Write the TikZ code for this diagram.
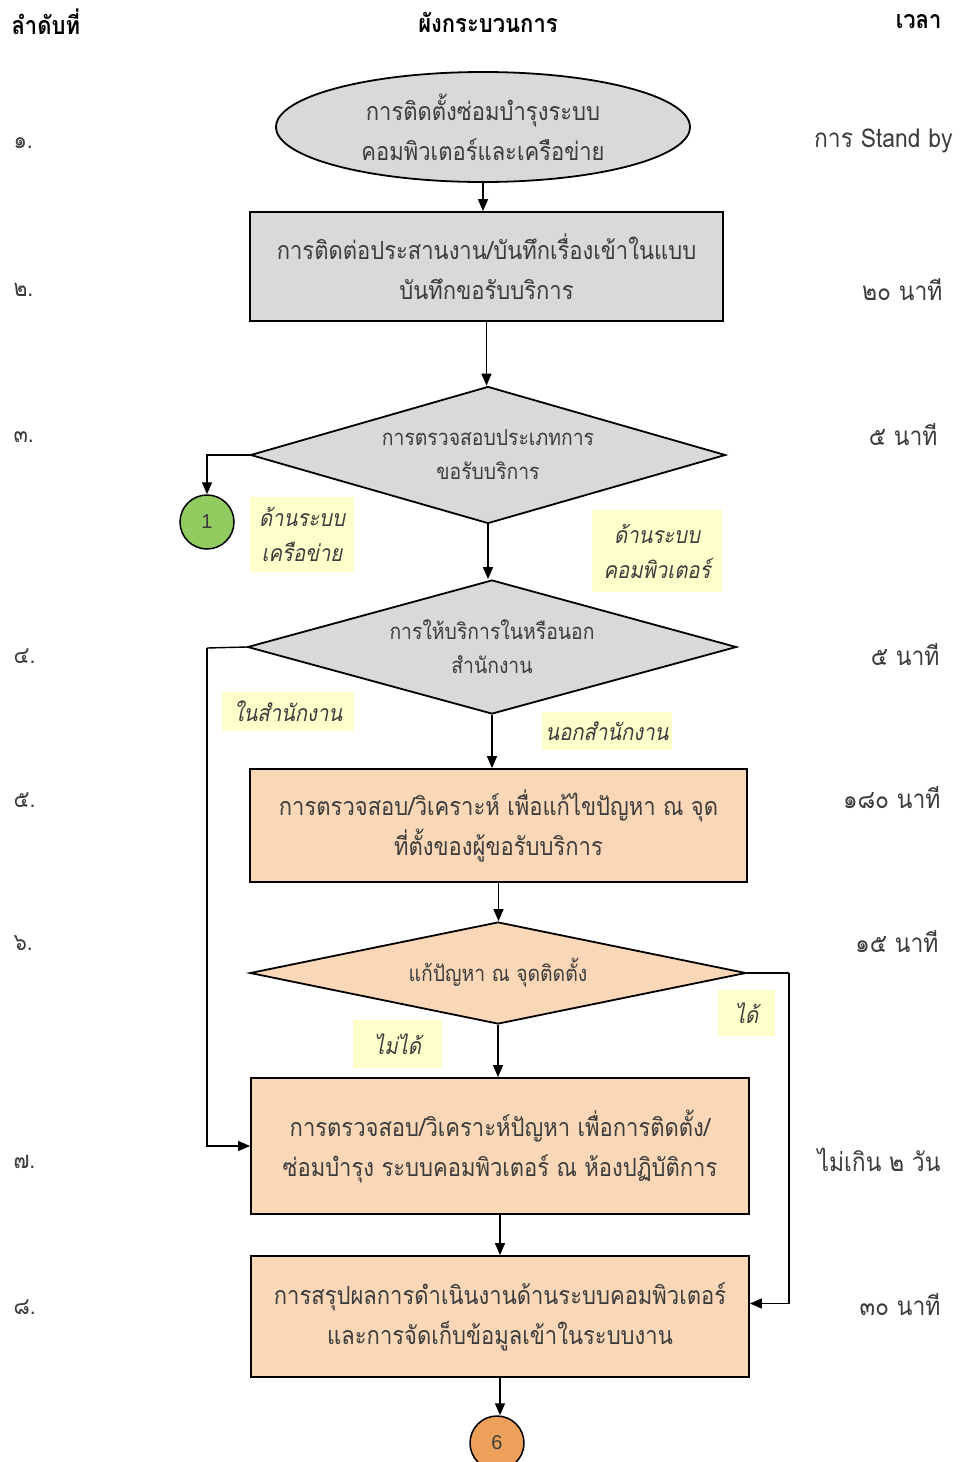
\documentclass[tikz,border=0pt]{standalone}
\usepackage{fontspec}
\usetikzlibrary{shapes.geometric,arrows.meta}
\newfontfamily\thai[Script=Thai,FakeStretch=0.88]{Loma}
\newfontfamily\thaiit[Script=Thai,FakeStretch=0.88,FakeSlant=0.2]{Loma}
\newfontfamily\arialf{Liberation Sans}
\definecolor{boxgray}{RGB}{217,217,217}
\definecolor{peach}{RGB}{249,215,183}
\definecolor{lblyellow}{RGB}{255,255,204}
\definecolor{cgreen}{RGB}{146,204,96}
\definecolor{corange}{RGB}{236,160,90}
\definecolor{txt}{RGB}{60,60,60}
\begin{document}
\begin{tikzpicture}[x=1pt,y=-1pt,
  base/.style={draw=black,line width=1.8pt,text=txt,font=\thai\fontsize{25}{40}\selectfont,align=center,inner sep=0pt},
  term/.style={base,ellipse,fill=boxgray},
  proc/.style={base,rectangle,fill=boxgray},
  procp/.style={base,rectangle,fill=peach},
  dec/.style={base,diamond,aspect=3.5,fill=boxgray,font=\thai\fontsize{22}{34}\selectfont},
  decp/.style={dec,fill=peach},
  conn/.style={circle,draw=black,line width=1.5pt,minimum size=54pt,inner sep=0pt,text=txt,font=\arialf\fontsize{20}{22}\selectfont},
  lbl/.style={fill=lblyellow,text=txt,font=\thaiit\fontsize{23}{35}\selectfont,align=center,inner sep=0pt},
  hdr/.style={text=black,font=\thai\bfseries\fontsize{25}{28}\selectfont},
  num/.style={text=txt,font=\thai\fontsize{24}{26}\selectfont},
  tim/.style={text=txt,font=\thai\fontsize{26}{28}\selectfont},
  arr/.style={line width=1.4pt,-{Triangle[length=12pt,width=10pt]}},
  ln/.style={line width=1.4pt}]
\useasboundingbox (0,0) rectangle (959,1462);
\fill[white] (0,0) rectangle (959,1462);
% headers
\node[hdr,anchor=west] (h1) at (8,22) {ลำดับที่};
\node[hdr] (h2) at (488,22) {ผังกระบวนการ};
\node[hdr,anchor=east] (h3) at (945,22) {เวลา};
% row numbers
\node[num,anchor=west] (r1) at (10,143) {๑.};
\node[num,anchor=west] (r2) at (10,290) {๒.};
\node[num,anchor=west] (r3) at (10,437) {๓.};
\node[num,anchor=west] (r4) at (10,656) {๔.};
\node[num,anchor=west] (r5) at (10,800) {๕.};
\node[num,anchor=west] (r6) at (10,943) {๖.};
\node[num,anchor=west] (r7) at (10,1162) {๗.};
\node[num,anchor=west] (r8) at (10,1307) {๘.};
% times
\node[tim,anchor=east] (t1) at (956,141) {การ Stand by};
\node[tim,anchor=east] (t2) at (946,290) {๒๐ นาที};
\node[tim,anchor=east] (t3) at (941,435) {๕ นาที};
\node[tim,anchor=east] (t4) at (943,655) {๕ นาที};
\node[tim,anchor=east] (t5) at (944,798) {๑๘๐ นาที};
\node[tim,anchor=east] (t6) at (942,942) {๑๕ นาที};
\node[tim,anchor=east] (t7) at (944,1160) {ไม่เกิน ๒ วัน};
\node[tim,anchor=east] (t8) at (944,1305) {๓๐ นาที};
% flow
\node[term,minimum width=414pt,minimum height=110pt] (n1) at (483,127) {การติดตั้งซ่อมบำรุงระบบ\\คอมพิวเตอร์และเครือข่าย};
\node[proc,minimum width=473pt,minimum height=109pt] (n2) at (486.5,266.5) {การติดต่อประสานงาน/บันทึกเรื่องเข้าในแบบ\\บันทึกขอรับบริการ};
\node[dec,minimum width=475pt,minimum height=137pt] (n3) at (488,455) {การตรวจสอบประเภทการ\\ขอรับบริการ};
\node[conn,fill=cgreen] (c1) at (207,522) {1};
\node[dec,minimum width=489pt,minimum height=134pt] (n4) at (492,647) {การให้บริการในหรือนอก\\สำนักงาน};
\node[procp,minimum width=497pt,minimum height=113pt] (n5) at (498.5,825.5) {การตรวจสอบ/วิเคราะห์ เพื่อแก้ไขปัญหา ณ จุด\\ที่ตั้งของผู้ขอรับบริการ};
\node[decp,minimum width=496pt,minimum height=102pt] (n6) at (498,973) {แก้ปัญหา ณ จุดติดตั้ง};
\node[procp,minimum width=498pt,minimum height=136pt] (n7) at (500,1146) {การตรวจสอบ/วิเคราะห์ปัญหา เพื่อการติดตั้ง/\\ซ่อมบำรุง ระบบคอมพิวเตอร์ ณ ห้องปฏิบัติการ};
\node[procp,minimum width=498pt,minimum height=121pt] (n8) at (500,1316.5) {การสรุปผลการดำเนินงานด้านระบบคอมพิวเตอร์\\และการจัดเก็บข้อมูลเข้าในระบบงาน};
\node[conn,fill=corange] (c6) at (497,1443) {6};
% labels
\node[lbl,minimum width=104pt,minimum height=75pt] (l1) at (302,534.5) {ด้านระบบ\\เครือข่าย};
\node[lbl,minimum width=130pt,minimum height=82pt] (l2) at (657,551) {ด้านระบบ\\คอมพิวเตอร์};
\node[lbl,minimum width=132pt,minimum height=39pt] (l3) at (288,711.5) {ในสำนักงาน};
\node[lbl,minimum width=130pt,minimum height=38pt] (l4) at (607,731) {นอกสำนักงาน};
\node[lbl,minimum width=57pt,minimum height=46pt] (l5) at (746.5,1013) {ได้};
\node[lbl,minimum width=89pt,minimum height=48pt] (l6) at (397.5,1044) {ไม่ได้};
% connectors
\coordinate (k4) at (207,648);
\coordinate (k6) at (789,973);
\draw[arr] (n1.south) -- (n1.south |- n2.north);
\draw[arr] (n2.south) -- (n2.south |- n3.north);
\draw[arr] (n3.west) -| (c1.north);
\draw[arr] (n3.south) -- (n3.south |- n4.north);
\draw[ln] (n4.west) -- (k4);
\draw[arr] (k4) |- (n7.west);
\draw[arr] (n4.south) -- (n4.south |- n5.north);
\draw[arr] (n5.south) -- (n5.south |- n6.north);
\draw[ln] (n6.east) -- (k6);
\draw[arr] (k6) |- ([yshift=13pt]n8.east);
\draw[arr] (n6.south) -- (n6.south |- n7.north);
\draw[arr] (n7.south) -- (n7.south |- n8.north);
\draw[arr] (n8.south) -- (n8.south |- c6.north);
\end{tikzpicture}
\end{document}
